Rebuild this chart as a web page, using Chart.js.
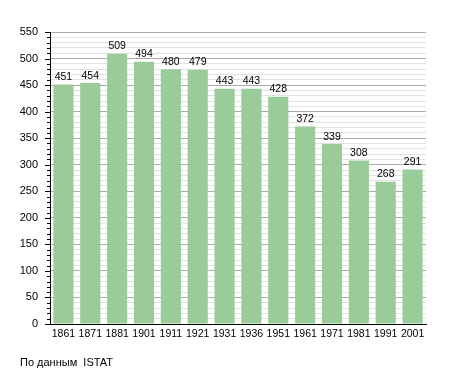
<!DOCTYPE html>
<html>
<head>
<meta charset="utf-8">
<script src="https://cdn.jsdelivr.net/npm/chart.js@4"></script>
<style>
  body { margin: 0; background: #fff; }
  #wrap { width: 455px; height: 373px; }
</style>
</head>
<body>
<div id="wrap"><canvas id="pop_chart" width="455" height="373"></canvas></div>
<script>
// data
const years = ['1861','1871','1881','1901','1911','1921','1931','1936','1951','1961','1971','1981','1991','2001'];
const residents = [451, 454, 509, 494, 480, 479, 443, 443, 428, 372, 339, 308, 268, 291];
const yMax = 550;
const yStep = 10;
const source = 'По данным  ISTAT';

const family = 'Liberation Sans, Arial, sans-serif';

// value labels above bars + y tick marks + footnote
const extras = {
    id: 'extras',
    afterDatasetsDraw(chart) {
        const c = chart.ctx;
        const meta = chart.getDatasetMeta(0);
        c.save();
        c.font = '10.5px ' + family;
        c.fillStyle = '#000';
        c.textAlign = 'center';
        c.textBaseline = 'bottom';
        meta.data.forEach((bar, i) => {
            c.fillText(residents[i], bar.x, bar.y - 2);
        });

        // tick marks on y axis
        const ys = chart.scales.y;
        const left = chart.chartArea.left;
        c.strokeStyle = '#000';
        c.lineWidth = 1;
        for (let v = 0; v <= yMax; v += yStep) {
            const py = Math.round(ys.getPixelForValue(v)) + 0.5;
            const len = v % 50 === 0 ? 5 : 3;
            c.beginPath();
            c.moveTo(left - len, py);
            c.lineTo(left, py);
            c.stroke();
        }

        c.font = '11px ' + family;
        c.textAlign = 'left';
        c.textBaseline = 'alphabetic';
        c.fillText(source, 20, 366);
        c.restore();
    }
};

const pop_chart = new Chart(document.getElementById('pop_chart').getContext('2d'), {
    type: 'bar',
    data: {
        labels: years,
        datasets: [{
            data: residents,
            backgroundColor: '#99cc99',
            barPercentage: 0.75,
            categoryPercentage: 1.0
        }]
    },
    options: {
        responsive: false,
        animation: false,
        layout: { padding: { top: 32, right: 29, bottom: 0, left: 0 } },
        plugins: {
            legend: { display: false },
            tooltip: { enabled: false }
        },
        scales: {
            x: {
                grid: { display: false, drawTicks: false },
                border: { display: true, color: '#000', width: 1 },
                ticks: { color: '#000', font: { family: family, size: 10.5 }, padding: 4, maxRotation: 0, autoSkip: false },
                afterFit(scale) { scale.height = 49; }
            },
            y: {
                min: 0,
                max: yMax,
                grid: {
                    drawTicks: false,
                    color: ctx => (ctx.tick && ctx.tick.value % 50 === 0) ? '#aaaaaa' : '#e2e2e2'
                },
                border: { display: true, color: '#000', width: 1 },
                ticks: {
                    stepSize: yStep,
                    autoSkip: false,
                    color: '#000',
                    font: { family: family, size: 11 },
                    padding: 12,
                    callback: v => v % 50 === 0 ? v : ''
                },
                afterFit(scale) { scale.width = 50; }
            }
        }
    },
    plugins: [extras]
});
</script>
</body>
</html>
